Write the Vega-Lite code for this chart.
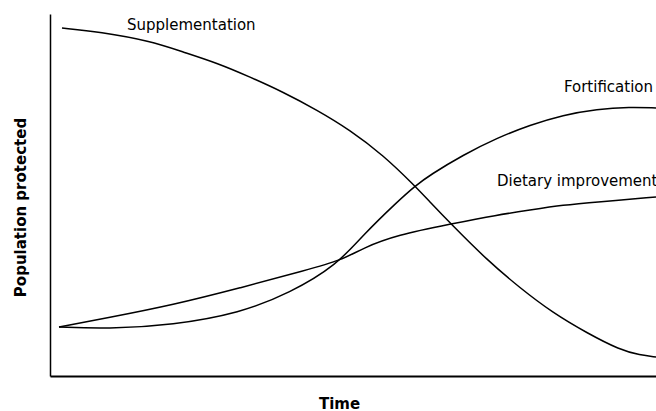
{
  "$schema": "https://vega.github.io/schema/vega-lite/v6.json",
  "autosize": {"type": "none"},
  "width": 606,
  "height": 362,
  "padding": {"left": 50, "top": 14, "right": 0, "bottom": 35},
  "background": "white",
  "config": {"view": {"stroke": null}},
  "datasets": {
    "curves": [
      {"series": "Supplementation", "t": 12, "p": 348},
      {"series": "Supplementation", "t": 50, "p": 344},
      {"series": "Supplementation", "t": 100, "p": 335},
      {"series": "Supplementation", "t": 133, "p": 324},
      {"series": "Supplementation", "t": 167, "p": 313},
      {"series": "Supplementation", "t": 200, "p": 299},
      {"series": "Supplementation", "t": 233, "p": 284},
      {"series": "Supplementation", "t": 267, "p": 266},
      {"series": "Supplementation", "t": 300, "p": 246},
      {"series": "Supplementation", "t": 333, "p": 221},
      {"series": "Supplementation", "t": 365, "p": 190},
      {"series": "Supplementation", "t": 380, "p": 174},
      {"series": "Supplementation", "t": 401, "p": 152},
      {"series": "Supplementation", "t": 437, "p": 116},
      {"series": "Supplementation", "t": 470, "p": 88},
      {"series": "Supplementation", "t": 503, "p": 63},
      {"series": "Supplementation", "t": 537, "p": 43},
      {"series": "Supplementation", "t": 570, "p": 26},
      {"series": "Supplementation", "t": 590, "p": 21},
      {"series": "Supplementation", "t": 606, "p": 19},
      {"series": "Fortification", "t": 9, "p": 49},
      {"series": "Fortification", "t": 57, "p": 47},
      {"series": "Fortification", "t": 123, "p": 51},
      {"series": "Fortification", "t": 190, "p": 63},
      {"series": "Fortification", "t": 240, "p": 83},
      {"series": "Fortification", "t": 287, "p": 111},
      {"series": "Fortification", "t": 313, "p": 141},
      {"series": "Fortification", "t": 347, "p": 174},
      {"series": "Fortification", "t": 365, "p": 190},
      {"series": "Fortification", "t": 380, "p": 201},
      {"series": "Fortification", "t": 413, "p": 221},
      {"series": "Fortification", "t": 447, "p": 238},
      {"series": "Fortification", "t": 480, "p": 251},
      {"series": "Fortification", "t": 513, "p": 261},
      {"series": "Fortification", "t": 547, "p": 267},
      {"series": "Fortification", "t": 580, "p": 269},
      {"series": "Fortification", "t": 606, "p": 268},
      {"series": "Dietary improvement", "t": 9, "p": 49},
      {"series": "Dietary improvement", "t": 57, "p": 58},
      {"series": "Dietary improvement", "t": 123, "p": 71},
      {"series": "Dietary improvement", "t": 190, "p": 88},
      {"series": "Dietary improvement", "t": 257, "p": 106},
      {"series": "Dietary improvement", "t": 292, "p": 116},
      {"series": "Dietary improvement", "t": 313, "p": 128},
      {"series": "Dietary improvement", "t": 347, "p": 141},
      {"series": "Dietary improvement", "t": 401, "p": 152},
      {"series": "Dietary improvement", "t": 447, "p": 161},
      {"series": "Dietary improvement", "t": 480, "p": 166},
      {"series": "Dietary improvement", "t": 513, "p": 171},
      {"series": "Dietary improvement", "t": 547, "p": 174},
      {"series": "Dietary improvement", "t": 606, "p": 179}
    ],
    "labels": [
      {"label": "Supplementation", "t": 77, "p": 346, "align": "left"},
      {"label": "Fortification", "t": 603, "p": 284, "align": "right"},
      {"label": "Dietary improvement", "t": 447, "p": 190, "align": "left"}
    ]
  },
  "layer": [
    {
      "data": {"name": "curves"},
      "mark": {"type": "line", "interpolate": "basis", "color": "black", "strokeWidth": 1.5},
      "encoding": {
        "x": {
          "field": "t", "type": "quantitative",
          "scale": {"domain": [0, 606], "nice": false, "zero": false},
          "axis": {
            "title": "Time", "labels": false, "ticks": false, "grid": false,
            "domainColor": "black", "domainWidth": 1.8,
            "titleFont": "DejaVu Sans", "titleFontSize": 15, "titleFontWeight": "bold", "titleColor": "black",
            "titleX": 289, "titleY": 32, "titleBaseline": "alphabetic", "titleAlign": "center"
          }
        },
        "y": {
          "field": "p", "type": "quantitative",
          "scale": {"domain": [0, 362], "nice": false, "zero": false},
          "axis": {
            "title": "Population protected", "labels": false, "ticks": false, "grid": false,
            "domainColor": "black", "domainWidth": 1.5,
            "titleFont": "DejaVu Sans", "titleFontSize": 15, "titleFontWeight": "bold", "titleColor": "black",
            "titleAngle": -90, "titleX": -25, "titleY": 193, "titleBaseline": "alphabetic", "titleAlign": "center"
          }
        },
        "detail": {"field": "series", "type": "nominal"}
      }
    },
    {
      "data": {"name": "labels"},
      "transform": [{"filter": "datum.align == 'left'"}],
      "mark": {"type": "text", "font": "DejaVu Sans", "fontSize": 15, "color": "black", "baseline": "alphabetic", "align": "left"},
      "encoding": {
        "x": {"field": "t", "type": "quantitative"},
        "y": {"field": "p", "type": "quantitative"},
        "text": {"field": "label"}
      }
    },
    {
      "data": {"name": "labels"},
      "transform": [{"filter": "datum.align == 'right'"}],
      "mark": {"type": "text", "font": "DejaVu Sans", "fontSize": 15, "color": "black", "baseline": "alphabetic", "align": "right"},
      "encoding": {
        "x": {"field": "t", "type": "quantitative"},
        "y": {"field": "p", "type": "quantitative"},
        "text": {"field": "label"}
      }
    }
  ]
}
